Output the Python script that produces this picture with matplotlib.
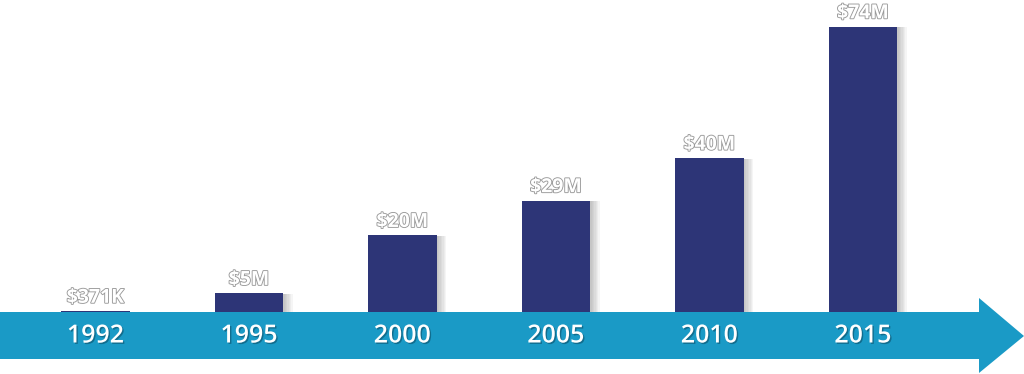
import matplotlib
matplotlib.use("Agg")
import matplotlib.pyplot as plt
import matplotlib.patheffects as pe
from matplotlib.patches import Polygon
from matplotlib.transforms import blended_transform_factory
import numpy as np

# data
years = ["1992", "1995", "2000", "2005", "2010", "2015"]
values = [0.371, 5, 20, 29, 40, 74]   # millions of $
labels = ["$371K", "$5M", "$20M", "$29M", "$40M", "$74M"]

bar_color = "#2d3577"
arrow_color = "#1a9ac6"

fig = plt.figure(figsize=(10.24, 3.74), dpi=100)

# bars axes (category x, value y)
ax = fig.add_axes([0, 0, 1, 1])
x = np.arange(len(years))
ax.set_xlim(-0.622, 6.049)
ax.set_ylim(-15.9, 80.9)
ax.axis("off")

bars = ax.bar(x, values, width=0.445, color=bar_color, zorder=2)
# soft shadow on the right of each bar
shadow = [pe.SimplePatchShadow(offset=(k, -0.5), shadow_rgbFace="#777777", alpha=0.07)
          for k in range(1, 8)]
for b in bars:
    b.set_path_effects(shadow + [pe.Normal()])

for xi, v, lab in zip(x, values, labels):
    ax.annotate(lab, (xi, v), xytext=(0, 6), textcoords="offset points",
                ha="center", va="baseline", fontsize=14, color="white",
                family="Open Sans", fontweight="bold",
                path_effects=[pe.withStroke(linewidth=1.3, foreground="#9a9a9a")])

# arrow band in pixel coords
ax2 = fig.add_axes([0, 0, 1, 1], zorder=3)
ax2.set_xlim(0, 1024)
ax2.set_ylim(374, 0)
ax2.axis("off")
ax2.patch.set_alpha(0)
arrow = Polygon([(0, 312), (979, 312), (979, 298), (1024, 336), (979, 373),
                 (979, 359), (0, 359)], closed=True, facecolor=arrow_color,
                edgecolor="none")
ax2.add_patch(arrow)

tr = blended_transform_factory(ax.transData, ax2.transData)
for xi, yr in zip(x, years):
    ax2.text(xi, 336, yr, transform=tr, ha="center", va="center",
             fontsize=18, color="white", family="Open Sans", fontweight="semibold",
             path_effects=[pe.withSimplePatchShadow(offset=(1, -1), shadow_rgbFace="#0b4f6a", alpha=0.6)])

fig.savefig("out.png", dpi=100)
